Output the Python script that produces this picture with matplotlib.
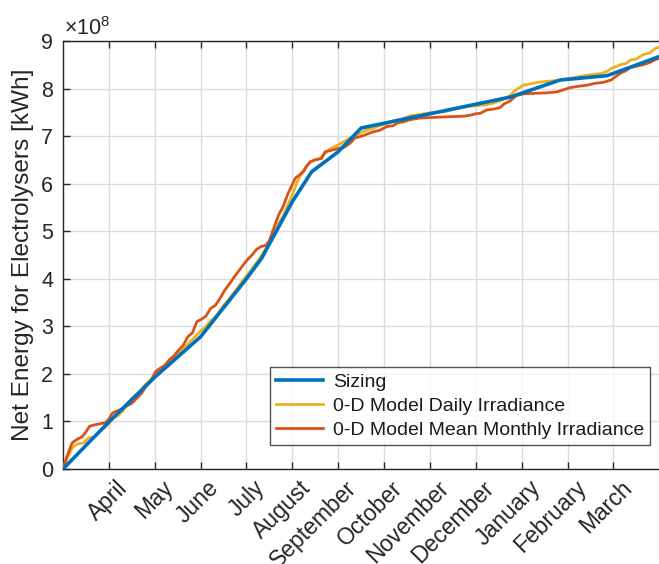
import matplotlib
matplotlib.use("Agg")
import matplotlib.pyplot as plt
import matplotlib.transforms as mtransforms

plt.rcParams["font.family"] = ["Liberation Sans", "DejaVu Sans"]
plt.rcParams["mathtext.fontset"] = "custom"
plt.rcParams["mathtext.rm"] = "Liberation Sans"

# Month axis: 0 = start of the simulated year, 1 = April, ... 12 = March
month_ticks = [1, 2, 3, 4, 5, 6, 7, 8, 9, 10, 11, 12]
month_labels = ["April", "May", "June", "July", "August", "September",
                "October", "November", "December", "January", "February", "March"]

# Cumulative net energy for electrolysers, in units of 1e8 kWh
sizing_t = [0, 1, 2, 3, 4, 4.33, 5.0, 5.42, 6.0, 6.5, 9.75, 10.84, 11.86, 13.05]
sizing_e = [0, 0.99, 1.93, 2.78, 4.0, 4.43, 5.62, 6.25, 6.67, 7.17, 7.82, 8.18, 8.27, 8.69]

daily_t = [0, 0.08, 0.2, 0.3, 0.45, 0.55, 0.7, 0.8, 0.9, 1.0, 1.1, 1.2, 1.3, 1.4,
           1.5, 1.6, 1.7, 1.8, 1.9, 2.0, 2.1, 2.2, 2.3, 2.4, 2.5, 2.6, 2.7, 2.8,
           2.9, 3.0, 3.1, 3.2, 3.3, 3.4, 3.5, 3.6, 3.7, 3.8, 3.9, 4.0, 4.1, 4.2,
           4.3, 4.4, 4.5, 4.6, 4.7, 4.8, 4.9, 5.0, 5.1, 5.2, 5.3, 5.4, 5.5, 5.6,
           5.7, 5.8, 5.93, 6.05, 6.15, 6.3, 6.48, 6.6, 6.75, 6.9, 7.05, 7.2, 7.4,
           7.57, 7.75, 8.0, 8.2, 8.35, 8.51, 8.7, 8.88, 9.05, 9.24, 9.4, 9.53,
           9.65, 9.75, 9.85, 9.95, 10.04, 10.2, 10.33, 10.55, 10.77, 10.95, 11.2,
           11.42, 11.6, 11.75, 11.86, 11.95, 12.05, 12.15, 12.28, 12.37, 12.5,
           12.66, 12.78, 12.91, 13.05]
daily_e = [0, 0.2, 0.45, 0.52, 0.55, 0.65, 0.68, 0.8, 0.86, 0.95, 1.08, 1.12, 1.22, 1.36,
           1.48, 1.56, 1.66, 1.78, 1.87, 1.97, 2.06, 2.16, 2.22, 2.32, 2.42, 2.5, 2.6, 2.7,
           2.8, 2.9, 2.98, 3.1, 3.18, 3.3, 3.44, 3.55, 3.68, 3.8, 3.94, 4.06, 4.18, 4.32,
           4.45, 4.6, 4.74, 4.95, 5.16, 5.32, 5.55, 5.76, 6.02, 6.22, 6.36, 6.46, 6.5, 6.53,
           6.62, 6.72, 6.78, 6.84, 6.9, 6.98, 7.06, 7.12, 7.16, 7.22, 7.26, 7.32, 7.36,
           7.43, 7.45, 7.49, 7.5, 7.52, 7.56, 7.6, 7.63, 7.64, 7.66, 7.7, 7.74,
           7.8, 7.86, 7.95, 8.02, 8.07, 8.1, 8.13, 8.15, 8.17, 8.2, 8.24,
           8.28, 8.3, 8.32, 8.36, 8.42, 8.46, 8.5, 8.53, 8.6, 8.62,
           8.72, 8.74, 8.84, 8.89]

monthly_t = [0, 0.08, 0.2, 0.3, 0.42, 0.5, 0.58, 0.7, 0.8, 0.92, 1.0, 1.08, 1.18, 1.3,
             1.4, 1.5, 1.62, 1.72, 1.82, 1.92, 2.02, 2.12, 2.22, 2.32, 2.42, 2.52, 2.62,
             2.72, 2.82, 2.92, 3.02, 3.12, 3.22, 3.32, 3.42, 3.52, 3.62, 3.72, 3.82, 3.92,
             4.02, 4.12, 4.22, 4.32, 4.42, 4.5, 4.6, 4.7, 4.8, 4.9, 5.0, 5.06, 5.15, 5.24,
             5.32, 5.39, 5.5, 5.64, 5.71, 5.85, 6.0, 6.12, 6.26, 6.36, 6.48, 6.6, 6.76,
             6.9, 7.06, 7.2, 7.3, 7.42, 7.55, 7.65, 7.79, 8.0, 8.22, 8.5, 8.75, 8.88, 9.0,
             9.1, 9.24, 9.4, 9.53, 9.62, 9.75, 9.88, 10.04, 10.3, 10.55, 10.77, 10.9,
             11.06, 11.25, 11.42, 11.6, 11.78, 11.95, 12.05, 12.15, 12.28, 12.37, 12.5,
             12.65, 12.8, 12.9, 13.05]
monthly_e = [0, 0.25, 0.55, 0.62, 0.68, 0.78, 0.9, 0.93, 0.95, 0.97, 1.05, 1.18, 1.22, 1.27,
             1.33, 1.38, 1.5, 1.6, 1.76, 1.86, 2.05, 2.12, 2.18, 2.3, 2.38, 2.5, 2.6,
             2.78, 2.86, 3.1, 3.15, 3.22, 3.38, 3.44, 3.58, 3.75, 3.88, 4.02, 4.15, 4.28,
             4.4, 4.5, 4.62, 4.68, 4.7, 4.8, 5.08, 5.34, 5.52, 5.78, 5.98, 6.11, 6.18, 6.25,
             6.38, 6.46, 6.5, 6.53, 6.67, 6.7, 6.74, 6.76, 6.85, 6.96, 6.99, 7.03, 7.09,
             7.12, 7.2, 7.22, 7.28, 7.3, 7.34, 7.36, 7.38, 7.39, 7.4, 7.41, 7.42, 7.44, 7.47,
             7.48, 7.55, 7.57, 7.6, 7.68, 7.74, 7.85, 7.89, 7.9, 7.91, 7.93, 7.97,
             8.02, 8.05, 8.07, 8.11, 8.13, 8.18, 8.25, 8.32, 8.38, 8.44, 8.47,
             8.5, 8.55, 8.6, 8.66]

series_names = ["Sizing", "0-D Model Daily Irradiance", "0-D Model Mean Monthly Irradiance"]
series_colors = ["#0072BD", "#EDB120", "#D95319"]

W, H = 659, 564
fig = plt.figure(figsize=(W / 100, H / 100), dpi=100)
ax = fig.add_axes([63 / W, 95 / H, 610 / W, 428 / H])

l_siz, = ax.plot(sizing_t, sizing_e, color=series_colors[0], lw=2.6, zorder=5,
                 label=series_names[0])
l_day, = ax.plot(daily_t, daily_e, color=series_colors[1], lw=2.0, zorder=3,
                 label=series_names[1])
l_mon, = ax.plot(monthly_t, monthly_e, color=series_colors[2], lw=2.0, zorder=4,
                 label=series_names[2])

ax.set_xlim(0, 13.3)
ax.set_ylim(0, 9)
ax.set_yticks(range(0, 10))
ax.set_xticks(month_ticks)

axis_col = "#262626"
ax.tick_params(axis="both", direction="in", length=5, width=1.0, color=axis_col,
               labelcolor=axis_col, top=True, right=True)
ax.tick_params(axis="y", labelsize=15.5, pad=7)
ax.tick_params(axis="x", pad=11)

ax.set_xticklabels(month_labels, rotation=45, ha="right", va="center",
                   rotation_mode="anchor", fontsize=16.5)
# nudge the rotated month names so their ends sit just right of each tick
shift = mtransforms.ScaledTranslation(15 / 100, 0, fig.dpi_scale_trans)
for lbl in ax.get_xticklabels():
    lbl.set_transform(lbl.get_transform() + shift)

for sp in ax.spines.values():
    sp.set_color(axis_col)
    sp.set_linewidth(1.0)

ax.grid(True, color="#dcdcdc", lw=1.0)
ax.set_axisbelow(True)

ax.set_ylabel("Net Energy for Electrolysers [kWh]", fontsize=17.6, color=axis_col,
              labelpad=5)

fig.text(64 / W, 1 - 35 / H, r"$\mathregular{\times10^{8}}$", fontsize=15.5,
         color=axis_col, ha="left", va="baseline")

leg = ax.legend(handles=[l_siz, l_day, l_mon], loc="upper left",
                bbox_to_anchor=(270 / W, 1 - 367 / H), bbox_transform=fig.transFigure,
                fontsize=14.0, frameon=True, fancybox=False, borderaxespad=0,
                handlelength=2.4, handletextpad=0.5, labelspacing=0.33,
                borderpad=0.33)
leg.get_frame().set_edgecolor(axis_col)
leg.get_frame().set_linewidth(1.0)
for t in leg.get_texts():
    t.set_color("#1a1a1a")

fig.savefig("out.png", dpi=100)
